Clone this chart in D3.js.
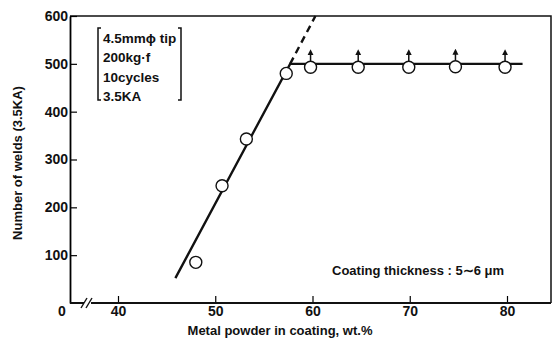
<!DOCTYPE html>
<html lang="en">
<head>
	<meta charset="UTF-8">
	<title>welds vs metal powder</title>
	<style>
		body { margin: 0; background: #fff; }
		svg text { font-family: "Liberation Sans", Arial, sans-serif; fill: #111; }
		.tick text { font-weight: bold; font-size: 14px; }
	</style>
</head>
<body>
	<svg id="container" width="554" height="340"></svg>
</body>
<script src="https://cdn.jsdelivr.net/npm/d3@7"></script>
<script>
	// data
	const xTicks = [40, 50, 60, 70, 80];
	const yTicks = [100, 200, 300, 400, 500, 600];
	const rampX = [48.0, 50.7, 53.2, 57.3];
	const rampY = [85, 245, 343, 480];
	const plateauX = [59.8, 64.7, 69.9, 74.7, 79.8];
	const plateauY = [493, 493, 493, 494, 493];
	const fitX = [45.9, 57.7, 81.6];
	const fitY = [52, 500, 500];
	const dashX = [57.7, 60.3];
	const dashY = [500, 600];
	const condLines = ["4.5mm\u03d5 tip", "200kg\u00b7f", "10cycles", "3.5KA"];

	let svg = d3.select("#container")
	let x = d3.scaleLinear().domain([40, 80]).range([118, 507])
	let y = d3.scaleLinear().domain([0, 600]).range([303, 16])
	let left = 70, right = 551

	// frame: top + right border
	svg.append("path")
		.attr("d", `M${left},${y(600)}H${right}V${y(0)}`)
		.attr("fill", "none").attr("stroke", "#111").attr("stroke-width", 1.5)

	// y axis
	let yAxis = svg.append("g")
		.attr("transform", `translate(${left},0)`)
		.call(d3.axisLeft(y).tickValues(yTicks).tickSizeInner(-7).tickSizeOuter(0).tickPadding(3))
	yAxis.select(".domain").attr("stroke-width", 1.8)
	yAxis.selectAll(".tick line").attr("stroke-width", 1.2)
	yAxis.selectAll(".tick text").attr("x", -2)

	// x axis (with break)
	let xAxis = svg.append("g")
		.attr("transform", `translate(0,${y(0)})`)
		.call(d3.axisBottom(x).tickValues(xTicks).tickSizeInner(-7).tickSizeOuter(0).tickPadding(3))
	xAxis.select(".domain").remove()
	xAxis.selectAll(".tick line").attr("stroke-width", 1.2)
	svg.append("path")
		.attr("d", `M${left},${y(0)}H${right}`)
		.attr("stroke", "#111").attr("stroke-width", 1.8)
	svg.append("rect").attr("x", 84).attr("y", y(0) - 4).attr("width", 7).attr("height", 8).attr("fill", "#fff")
	svg.append("g").selectAll("line").data([0, 5]).join("line")
		.attr("x1", d => 81 + d).attr("y1", y(0) + 5)
		.attr("x2", d => 87 + d).attr("y2", y(0) - 5)
		.attr("stroke", "#111").attr("stroke-width", 1.4)
	svg.append("text").text("0")
		.attr("x", 62).attr("y", 316).attr("text-anchor", "middle")
		.style("font-weight", "bold").style("font-size", "14px")

	// fitted line
	let line = d3.line().x(d => x(d[0])).y(d => y(d[1]))
	svg.append("path")
		.attr("d", line(fitX.map((v, i) => [v, fitY[i]])))
		.attr("fill", "none").attr("stroke", "#111").attr("stroke-width", 2.4)
	svg.append("path")
		.attr("d", line(dashX.map((v, i) => [v, dashY[i]])))
		.attr("fill", "none").attr("stroke", "#111").attr("stroke-width", 2.4)
		.attr("stroke-dasharray", "7,5")

	// arrows above plateau points
	svg.append("defs").append("marker")
		.attr("id", "arr").attr("viewBox", "0 0 6 6").attr("refX", 3).attr("refY", 3)
		.attr("markerWidth", 4).attr("markerHeight", 5).attr("orient", "auto")
		.append("path").attr("d", "M0,0L6,3L0,6Z").attr("fill", "#111")
	svg.append("g").selectAll("line").data(plateauX.map((v, i) => [v, plateauY[i]])).join("line")
		.attr("x1", d => x(d[0])).attr("y1", d => y(d[1]) - 6)
		.attr("x2", d => x(d[0])).attr("y2", d => y(d[1]) - 15)
		.attr("stroke", "#111").attr("stroke-width", 1.5)
		.attr("marker-end", "url(#arr)")

	// points
	let pts = rampX.map((v, i) => [v, rampY[i]]).concat(plateauX.map((v, i) => [v, plateauY[i]]))
	svg.append("g").selectAll("circle").data(pts).join("circle")
		.attr("cx", d => x(d[0])).attr("cy", d => y(d[1])).attr("r", 6)
		.attr("fill", "#fff").attr("stroke", "#111").attr("stroke-width", 1.4)

	// conditions box with brackets
	let cond = svg.append("g")
	cond.selectAll("text").data(condLines).join("text")
		.text(d => d)
		.attr("x", 103).attr("y", (d, i) => 43 + i * 19.3)
		.style("font-weight", "bold").style("font-size", "13.5px")
	cond.append("path")
		.attr("d", "M101,28 H98 V100 H101 M178,28 H181 V100 H178")
		.attr("fill", "none").attr("stroke", "#111").attr("stroke-width", 1.5)

	svg.append("text").text("Coating thickness : 5\u223c6 \u03bcm")
		.attr("x", 332).attr("y", 275)
		.style("font-weight", "bold").style("font-size", "13px")

	// axis titles
	svg.append("text").text("Metal powder in coating, wt.%")
		.attr("x", 280).attr("y", 335).attr("text-anchor", "middle")
		.style("font-weight", "bold").style("font-size", "13px")
	svg.append("text").text("Number of welds (3.5KA)")
		.attr("transform", "translate(22,163) rotate(-90)").attr("text-anchor", "middle")
		.style("font-weight", "bold").style("font-size", "13px")
</script>
</html>
